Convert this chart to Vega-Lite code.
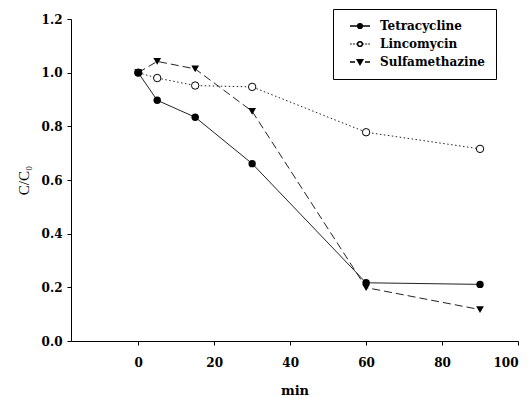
{
  "$schema": "https://vega.github.io/schema/vega-lite/v6.json",
  "width": 447,
  "height": 322,
  "autosize": {"type": "none"},
  "padding": {"left": 71, "top": 19, "right": 12, "bottom": 56},
  "background": "white",
  "config": {
    "view": {"stroke": null},
    "axis": {
      "grid": false,
      "domainColor": "black",
      "tickColor": "black",
      "tickSize": 4,
      "labelFont": "DejaVu Serif",
      "labelFontWeight": "bold",
      "labelFontSize": 12,
      "labelColor": "black",
      "titleColor": "black",
      "titleFontSize": 13
    },
    "legend": {
      "labelFont": "DejaVu Serif",
      "labelFontWeight": "bold",
      "labelFontSize": 12,
      "labelColor": "black"
    }
  },
  "data": {
    "values": [
      {"series": "Tetracycline", "t": 0, "c": 1.0},
      {"series": "Tetracycline", "t": 5, "c": 0.897},
      {"series": "Tetracycline", "t": 15, "c": 0.834},
      {"series": "Tetracycline", "t": 30, "c": 0.661},
      {"series": "Tetracycline", "t": 60, "c": 0.217},
      {"series": "Tetracycline", "t": 90, "c": 0.211},
      {"series": "Lincomycin", "t": 0, "c": 1.0},
      {"series": "Lincomycin", "t": 5, "c": 0.98},
      {"series": "Lincomycin", "t": 15, "c": 0.952},
      {"series": "Lincomycin", "t": 30, "c": 0.947},
      {"series": "Lincomycin", "t": 60, "c": 0.778},
      {"series": "Lincomycin", "t": 90, "c": 0.716},
      {"series": "Sulfamethazine", "t": 0, "c": 1.0},
      {"series": "Sulfamethazine", "t": 5, "c": 1.042},
      {"series": "Sulfamethazine", "t": 15, "c": 1.014},
      {"series": "Sulfamethazine", "t": 30, "c": 0.856},
      {"series": "Sulfamethazine", "t": 60, "c": 0.199},
      {"series": "Sulfamethazine", "t": 90, "c": 0.117}
    ]
  },
  "encoding": {
    "x": {
      "field": "t", "type": "quantitative",
      "scale": {"domain": [-17.7, 100], "nice": false, "zero": false},
      "axis": {"values": [0, 20, 40, 60, 80, 100], "title": "min", "titleFontWeight": "bold", "titleFont": "DejaVu Serif", "labelPadding": 12, "titlePadding": 16}
    },
    "y": {
      "field": "c", "type": "quantitative",
      "scale": {"domain": [0, 1.2], "nice": false},
      "axis": {"values": [0, 0.2, 0.4, 0.6, 0.8, 1.0, 1.2], "format": ".1f", "title": "C/C₀", "titleFontWeight": "normal", "titleFont": "Liberation Serif", "titleFontSize": 15, "labelPadding": 5, "titlePadding": 10}
    }
  },
  "layer": [
    {
      "transform": [{"filter": "datum.series === 'Lincomycin'"}],
      "mark": {"type": "line", "color": "#222", "strokeWidth": 1, "strokeDash": [1.5, 2.5]}
    },
    {
      "transform": [{"filter": "datum.series === 'Sulfamethazine'"}],
      "mark": {"type": "line", "color": "#222", "strokeWidth": 1, "strokeDash": [8, 4]}
    },
    {
      "transform": [{"filter": "datum.series === 'Tetracycline'"}],
      "mark": {"type": "line", "color": "#222", "strokeWidth": 1}
    },
    {
      "transform": [{"filter": "datum.series === 'Lincomycin'"}],
      "mark": {"type": "point", "shape": "circle", "size": 55, "filled": false, "fill": "white", "fillOpacity": 1, "stroke": "black", "strokeWidth": 1, "opacity": 1}
    },
    {
      "transform": [{"filter": "datum.series === 'Sulfamethazine'"}],
      "mark": {"type": "point", "shape": "triangle-down", "size": 60, "filled": true, "color": "black", "opacity": 1}
    },
    {
      "transform": [{"filter": "datum.series === 'Tetracycline'"}],
      "mark": {"type": "point", "shape": "circle", "size": 55, "filled": true, "color": "black", "opacity": 1}
    },
    {
      "transform": [{"filter": "false"}],
      "mark": {"type": "point", "size": 289, "color": "black", "strokeWidth": 1, "opacity": 1, "filled": false},
      "encoding": {
        "shape": {
          "field": "series", "type": "nominal",
          "scale": {
            "domain": ["Tetracycline", "Lincomycin", "Sulfamethazine"],
            "range": [
              "M-2,0L-0.47,0M0.47,0L2,0M0.47,0A0.47,0.47 0 1,1 -0.47,0A0.47,0.47 0 1,1 0.47,0Z",
              "M-2,0L-1.88,0M-1.7,0L-1.58,0M-1.4,0L-1.28,0M-1.1,0L-0.98,0M-0.8,0L-0.68,0M0.68,0L0.8,0M0.98,0L1.1,0M1.28,0L1.4,0M1.58,0L1.7,0M1.88,0L2,0M0.47,0A0.47,0.47 0 1,1 -0.47,0A0.47,0.47 0 1,1 0.47,0Z",
              "M-2,0L-1.0,0M1.0,0L2,0M-0.55,-0.45L0.55,-0.45L0,0.5Z"
            ]
          },
          "legend": {
            "title": null,
            "orient": "none",
            "legendX": 262,
            "legendY": -10,
            "strokeColor": "black",
            "fillColor": "white",
            "padding": 11,
            "labelOffset": 14,
            "symbolOffset": 10,
            "rowPadding": 6
          }
        },
        "fill": {
          "field": "series", "type": "nominal",
          "scale": {
            "domain": ["Tetracycline", "Lincomycin", "Sulfamethazine"],
            "range": ["black", "white", "black"]
          },
          "legend": {
            "title": null,
            "orient": "none",
            "legendX": 262,
            "legendY": -10,
            "strokeColor": "black",
            "fillColor": "white",
            "padding": 11,
            "labelOffset": 14,
            "symbolOffset": 10,
            "rowPadding": 6
          }
        }
      }
    }
  ]
}
